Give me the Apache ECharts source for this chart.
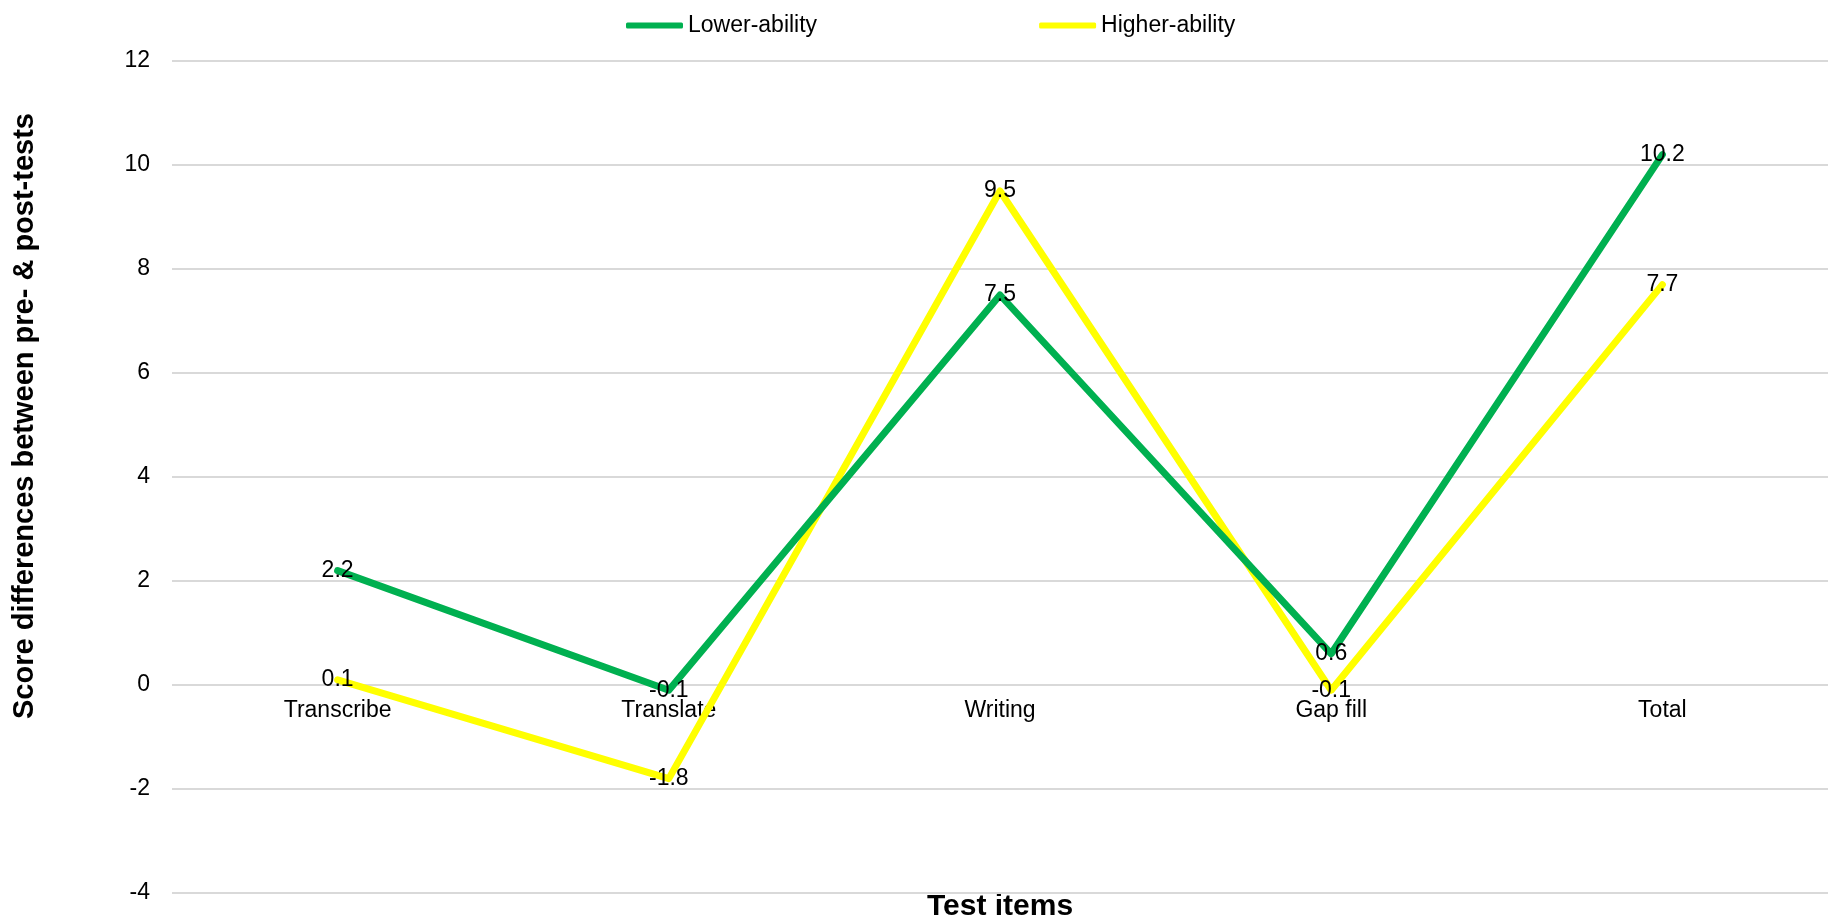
<!DOCTYPE html>
<html>
<head>
<meta charset="utf-8">
<title>Score differences by test item</title>
<script src="https://cdn.jsdelivr.net/npm/echarts@6/dist/echarts.min.js"></script>
<style>
  html, body { margin: 0; padding: 0; background: #ffffff; }
  #chart { width: 1840px; height: 923px; }
</style>
</head>
<body>
<div id="chart"></div>
<script>
// Test items on the horizontal axis
const categories = ['Transcribe', 'Translate', 'Writing', 'Gap fill', 'Total'];

// Mean score gain (post-test minus pre-test) for each ability group
const lowerAbility = [2.2, -0.1, 7.5, 0.6, 10.2];
const higherAbility = [0.1, -1.8, 9.5, -0.1, 7.7];

// Value axis range and step
const yMin = -4;
const yMax = 12;
const yStep = 2;

const FONT = '"Liberation Sans", Arial, sans-serif';
const GREEN = '#00B050';
const YELLOW = '#FFFF00';

const chart = echarts.init(document.getElementById('chart'), null, { renderer: 'canvas' });

// Value labels sit centred on each data point
const labelStyle = {
  show: true,
  position: 'inside',
  color: '#000000',
  fontFamily: FONT,
  fontSize: 23
};

chart.setOption({
  animation: false,
  backgroundColor: '#ffffff',
  grid: { left: 172, right: 12, top: 61, bottom: 30, containLabel: false },
  legend: {
    left: 621,
    top: 9,
    itemWidth: 57,
    itemHeight: 6,
    itemGap: 222,
    icon: 'roundRect',
    textStyle: { color: '#000000', fontFamily: FONT, fontSize: 23 },
    data: ['Lower-ability', 'Higher-ability']
  },
  xAxis: {
    type: 'category',
    data: categories,
    boundaryGap: true,
    // axis raised from the grid bottom to the y = 0 line so the category labels sit under it
    offset: -208,
    axisLine: { show: false, onZero: false },
    axisTick: { show: false },
    axisLabel: { color: '#000000', fontFamily: FONT, fontSize: 23, margin: 14 },
    splitLine: { show: false }
  },
  yAxis: {
    type: 'value',
    min: yMin,
    max: yMax,
    interval: yStep,
    axisLine: { show: false },
    axisTick: { show: false },
    axisLabel: { color: '#000000', fontFamily: FONT, fontSize: 23, margin: 22 },
    splitLine: { lineStyle: { color: '#d9d9d9', width: 2 } }
  },
  graphic: [
    {
      type: 'text',
      x: 1000,
      y: 907,
      style: {
        text: 'Test items',
        fill: '#000000',
        font: 'bold 30px ' + FONT,
        align: 'center',
        verticalAlign: 'middle'
      }
    },
    {
      type: 'text',
      x: 25,
      y: 416,
      rotation: Math.PI / 2,
      style: {
        text: 'Score differences between pre- & post-tests',
        fill: '#000000',
        font: 'bold 29px ' + FONT,
        align: 'center',
        verticalAlign: 'middle'
      }
    }
  ],
  series: [
    {
      name: 'Lower-ability',
      type: 'line',
      data: lowerAbility,
      symbol: 'circle',
      symbolSize: 1,
      showSymbol: true,
      z: 3,
      lineStyle: { color: GREEN, width: 7, cap: 'round', join: 'round' },
      itemStyle: { color: GREEN },
      label: labelStyle
    },
    {
      name: 'Higher-ability',
      type: 'line',
      data: higherAbility,
      symbol: 'circle',
      symbolSize: 1,
      showSymbol: true,
      z: 2,
      lineStyle: { color: YELLOW, width: 7, cap: 'round', join: 'round' },
      itemStyle: { color: YELLOW },
      label: labelStyle
    }
  ]
});
</script>
</body>
</html>
